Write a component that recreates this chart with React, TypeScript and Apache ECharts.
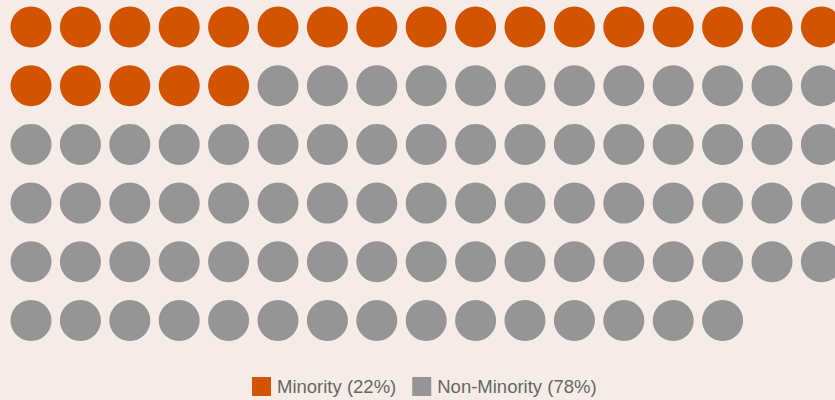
import React, { useEffect, useRef } from "react";
import * as echarts from "echarts";

const categories = ["Minority", "Non-Minority"];
const percents = [22, 78];
const colors = ["#d35400", "#959595"];
const columnsPerRow = 17;

function buildSeries() {
  const series: any[] = [];
  let idx = 0;
  categories.forEach((cat, ci) => {
    const pts: number[][] = [];
    for (let k = 0; k < percents[ci]; k++) {
      pts.push([idx % columnsPerRow, Math.floor(idx / columnsPerRow)]);
      idx++;
    }
    series.push({
      name: `${cat} (${percents[ci]}%)`,
      type: "scatter",
      data: pts,
      symbol: "circle",
      symbolSize: 41,
      clip: false,
      silent: true,
      itemStyle: { color: colors[ci], opacity: 1 },
    });
  });
  return series;
}

export default function App() {
  const ref = useRef<HTMLDivElement>(null);
  useEffect(() => {
    if (!ref.current) return;
    const chart = echarts.init(ref.current, undefined, { renderer: "svg" });
    const series = buildSeries();
    const rows = Math.ceil(100 / columnsPerRow);
    chart.setOption({
      animation: false,
      backgroundColor: "#f5ece7",
      grid: { left: 31, top: 27, width: 790.4, height: 293.5 },
      xAxis: { type: "value", min: 0, max: columnsPerRow - 1, show: false },
      yAxis: { type: "value", min: 0, max: rows - 1, inverse: true, show: false },
      legend: {
        left: 252,
        top: 377,
        padding: 0,
        itemWidth: 19,
        itemHeight: 19,
        itemGap: 16,
        icon: "rect",
        textStyle: {
          color: "#666666",
          fontSize: 18.5,
          fontFamily: "'Liberation Sans', Arial, sans-serif",
          padding: [0, 0, 0, 1],
        },
        data: series.map((s) => s.name),
      },
      series,
    });
    return () => chart.dispose();
  }, []);
  return (
    <div
      ref={ref}
      style={{ position: "absolute", left: 0, top: 0, width: 835, height: 400 }}
    />
  );
}
